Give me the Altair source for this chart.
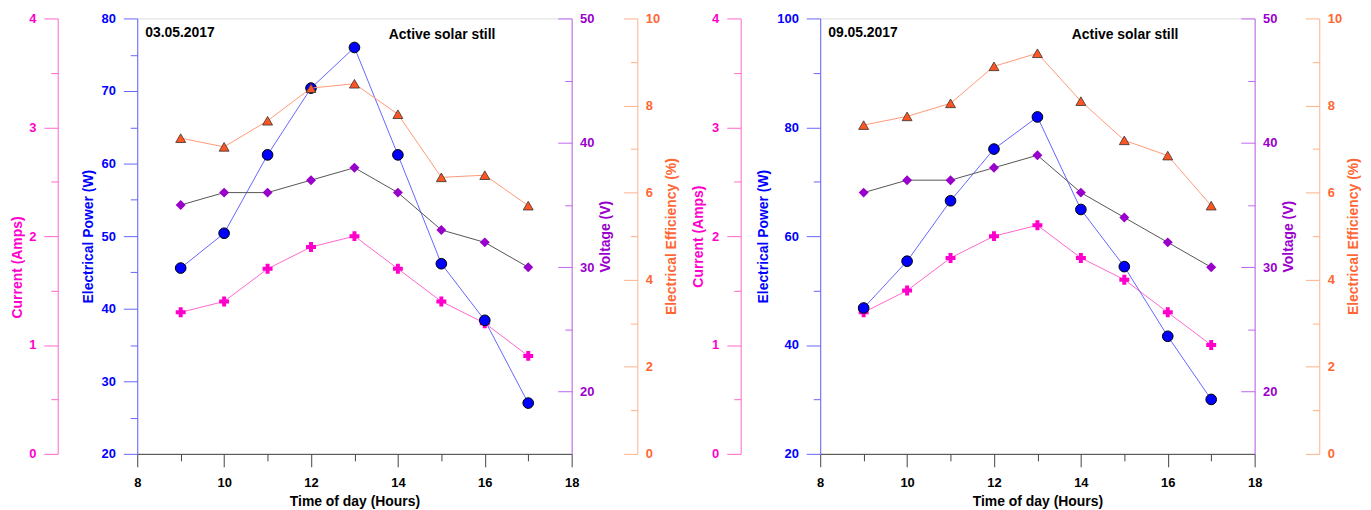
import altair as alt
import pandas as pd

# ---------------- data ----------------
hours = [9, 10, 11, 12, 13, 14, 15, 16, 17]
dates = ["03.05.2017", "09.05.2017"]
label_text = "Active solar still"

power_0305 = [45.6, 50.4, 61.2, 70.4, 76.0, 61.2, 46.2, 38.4, 27.0]
current_0305 = [1.3, 1.4, 1.7, 1.9, 2.0, 1.7, 1.4, 1.2, 0.9]
voltage_0305 = [35, 36, 36, 37, 38, 36, 33, 32, 30]
eff_0305 = [7.25, 7.05, 7.65, 8.4, 8.5, 7.8, 6.35, 6.4, 5.7]

power_0905 = [46.8, 55.4, 66.5, 76.0, 81.9, 64.9, 54.4, 41.6, 30.0]
current_0905 = [1.3, 1.5, 1.8, 2.0, 2.1, 1.8, 1.6, 1.3, 1.0]
voltage_0905 = [36, 37, 37, 38, 39, 36, 34, 32, 30]
eff_0905 = [7.55, 7.75, 8.05, 8.9, 9.2, 8.1, 7.2, 6.85, 5.7]

x_ticks = [8, 10, 12, 14, 16, 18]
x_minor = [9, 11, 13, 15, 17]
current_ticks = [0, 1, 2, 3, 4]
current_minor = [0.5, 1.5, 2.5, 3.5]
power_ticks_0305 = [20, 30, 40, 50, 60, 70, 80]
power_minor_0305 = [25, 35, 45, 55, 65, 75]
power_ticks_0905 = [20, 40, 60, 80, 100]
power_minor_0905 = [30, 50, 70, 90]
voltage_ticks = [20, 30, 40, 50]
voltage_minor = [25, 35, 45]
eff_ticks = [0, 2, 4, 6, 8, 10]
eff_minor = [1, 3, 5, 7, 9]

# ---------------- style ----------------
FONT = "Liberation Sans"
PINK, PINK_L = "#ff00cc", "#ff66cc"
BLUE, BLUE_L = "#0000ff", "#6666ff"
PURPLE, PURPLE_L = "#9900cc", "#c266f0"
ORANGE, ORANGE_L, ORANGE_LINE = "#ff6633", "#ffb088", "#ff9977"
TRI_FILL = "#ff5522"
VOLT_LINE = "#555555"
AX = "#444444"

W, H = 437, 438


def xenc(axis, title=None):
    return alt.X("hour:Q", scale=alt.Scale(domain=[8, 18], nice=False, zero=False),
                 axis=axis, title=title)


def major_left(values, offset, color, lcolor, title_x, title_y, label_pad=8):
    return alt.Axis(orient="left", offset=offset, values=values, tickSize=14, tickWidth=1,
                    tickColor=lcolor, domainColor=lcolor, domainWidth=1, labelColor=color,
                    labelFontSize=13, labelFontWeight="bold", labelFont=FONT, labelPadding=label_pad,
                    titleColor=color, titleFontSize=14, titleFontWeight="bold", titleFont=FONT,
                    titleAngle=270, titleBaseline="middle", titleX=title_x, titleY=title_y,
                    grid=False, format="d", labelFlush=False, labelOverlap=False)


def major_right(values, offset, color, lcolor, title_x, title_y):
    return alt.Axis(orient="left", offset=offset, values=values, tickSize=14, tickWidth=1,
                    tickColor=lcolor, domainColor=lcolor, domainWidth=1, labelColor=color,
                    labelFontSize=13, labelFontWeight="bold", labelFont=FONT, labelPadding=-22,
                    labelAlign="left",
                    titleColor=color, titleFontSize=14, titleFontWeight="bold", titleFont=FONT,
                    titleAngle=270, titleBaseline="middle", titleX=title_x, titleY=title_y,
                    grid=False, format="d", labelFlush=False, labelOverlap=False)


def minor_axis(values, offset, lcolor):
    return alt.Axis(orient="left", offset=offset, values=values, tickSize=7, tickWidth=1,
                    tickColor=lcolor, labels=False, domain=False, grid=False)


def yenc(field, domain, axis, title=None):
    return alt.Y(f"{field}:Q", scale=alt.Scale(domain=domain, nice=False, zero=False),
                 axis=axis, title=title)


def panel(date, power, current, voltage, eff, p_dom, p_ticks, p_minor,
          cur_tx, cur_ty, pow_tx, eff_off):
    df = pd.DataFrame({"hour": hours, "power": power, "current": current,
                       "voltage": voltage, "eff": eff})
    base = alt.Chart(df)

    x_major = alt.Axis(orient="bottom", values=x_ticks, tickSize=13, tickColor=AX, domainColor=AX,
                       domainWidth=1, labelColor="black", labelFontSize=13, labelFontWeight="bold",
                       labelFont=FONT, labelPadding=10, titleFontSize=14, titleFontWeight="bold",
                       titleFont=FONT, titleColor="black", titlePadding=5, grid=False,
                       labelFlush=False)
    x_minor_axis = alt.Axis(orient="bottom", values=x_minor, tickSize=7, tickColor=AX,
                            labels=False, domain=False, grid=False)

    cur = base.mark_line(color=PINK_L, strokeWidth=1,
                         point=alt.OverlayMarkDef(shape="cross", filled=True, fill=PINK,
                                                  stroke=PINK, strokeWidth=0, size=100)).encode(
        x=xenc(x_major, "Time of day (Hours)"),
        y=yenc("current", [0, 4], major_left(current_ticks, 80, PINK, PINK_L, cur_tx, cur_ty),
               "Current (Amps)"))
    cur_m = base.mark_line(strokeOpacity=0).encode(
        x=xenc(x_minor_axis), y=yenc("current", [0, 4], minor_axis(current_minor, 80, PINK_L)))

    pw = base.mark_line(color=BLUE_L, strokeWidth=1,
                        point=alt.OverlayMarkDef(shape="circle", filled=True, fill=BLUE,
                                                 stroke="black", strokeWidth=1, size=115)).encode(
        x=xenc(None),
        y=yenc("power", p_dom, major_left(p_ticks, 0, BLUE, BLUE_L, pow_tx, H / 2),
               "Electrical Power (W)"))
    pw_m = base.mark_line(strokeOpacity=0).encode(
        x=xenc(None), y=yenc("power", p_dom, minor_axis(p_minor, 0, BLUE_L)))

    vt = base.mark_line(color=VOLT_LINE, strokeWidth=1,
                        point=alt.OverlayMarkDef(shape="diamond", filled=True, fill=PURPLE,
                                                 stroke=PURPLE, strokeWidth=0, size=100)).encode(
        x=xenc(None),
        y=yenc("voltage", [15, 50], major_right(voltage_ticks, -W, PURPLE, PURPLE_L, 34, H / 2),
               "Voltage (V)"))
    vt_m = base.mark_line(strokeOpacity=0).encode(
        x=xenc(None), y=yenc("voltage", [15, 50], minor_axis(voltage_minor, -W, PURPLE_L)))

    ef = base.mark_line(color=ORANGE_LINE, strokeWidth=1,
                        point=alt.OverlayMarkDef(shape="triangle-up", filled=True, fill=TRI_FILL,
                                                 stroke="#333333", strokeWidth=0.8, size=100)).encode(
        x=xenc(None),
        y=yenc("eff", [0, 10], major_right(eff_ticks, eff_off, ORANGE, ORANGE_L, 34, H / 2),
               "Electrical Efficiency (%)"))
    ef_m = base.mark_line(strokeOpacity=0).encode(
        x=xenc(None), y=yenc("eff", [0, 10], minor_axis(eff_minor, eff_off, ORANGE_L)))

    t_date = alt.Chart(pd.DataFrame({"t": [date]})).mark_text(
        align="left", baseline="middle", fontSize=14, fontWeight="bold", font=FONT,
        color="black").encode(text="t:N", x=alt.value(8), y=alt.value(15))
    t_lab = alt.Chart(pd.DataFrame({"t": [label_text]})).mark_text(
        align="left", baseline="middle", fontSize=14, fontWeight="bold", font=FONT,
        color="black").encode(text="t:N", x=alt.value(253), y=alt.value(17))

    return alt.layer(cur, cur_m, pw, pw_m, vt, vt_m, ef, ef_m, t_date, t_lab).resolve_scale(
        x="independent", y="independent").properties(width=W, height=H)


left = panel(dates[0], power_0305, current_0305, voltage_0305, eff_0305,
             [20, 80], power_ticks_0305, power_minor_0305, -40, 250, -48.5, -503)
right = panel(dates[1], power_0905, current_0905, voltage_0905, eff_0905,
              [20, 100], power_ticks_0905, power_minor_0905, -42, H / 2, -57, -502)

chart = alt.hconcat(left, right, spacing=12).properties(
    padding={"left": 2, "top": 2, "right": 2, "bottom": 2}
).configure_view(strokeWidth=0).configure(font=FONT)

chart.save("out.html", embed_options={"renderer": "svg", "actions": False})
